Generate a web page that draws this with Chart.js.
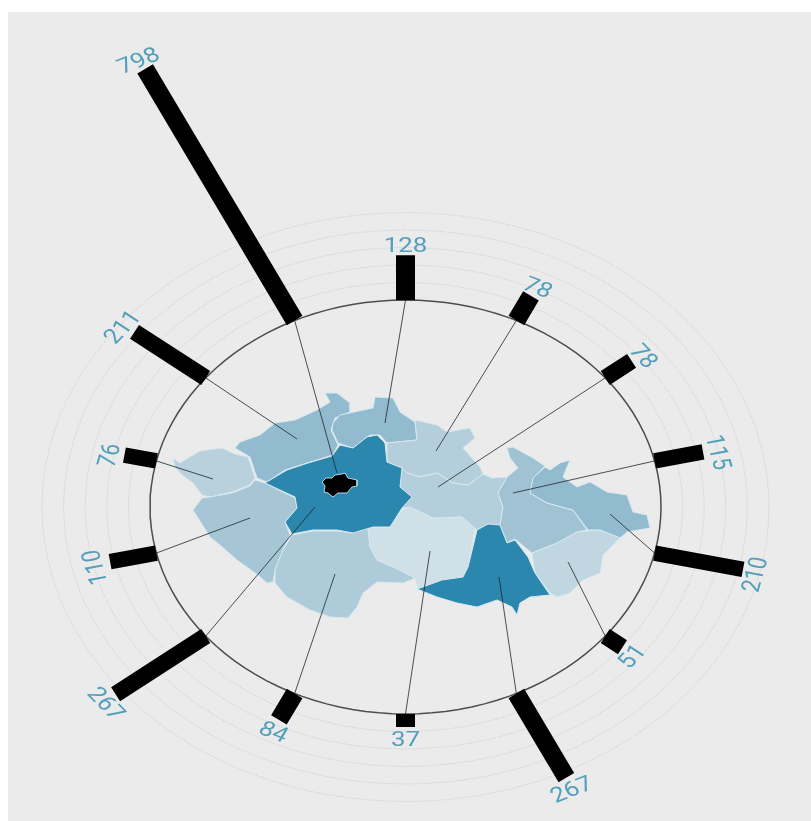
<!DOCTYPE html>
<html lang="en">
<head>
  <meta charset="UTF-8">
  <title>Regions of Czechia</title>
  <script src="https://cdn.jsdelivr.net/npm/chart.js"></script>
  <style>
    html, body { margin: 0; background: #ffffff; }
    #paper { position: absolute; left: 8px; top: 12px; width: 803px; height: 809px; background: #ebebeb; }
    #wrap { position: absolute; left: 0; top: 0; width: 811px; height: 821px; }
  </style>
</head>
<body>
  <div id="paper"></div>
  <div id="wrap"><canvas id="chart" width="811" height="821"></canvas></div>

  <script>
    // bar values, clockwise from the top
    var values = [128, 78, 78, 115, 210, 51, 267, 37, 84, 267, 110, 76, 211, 798];
    var ringValues = [50, 100, 150, 200, 250];

    // where each thin line ends inside the map
    var leaderEndX = [385, 436, 438, 513, 610, 568, 499, 430, 335, 315, 250, 213, 297, 337];
    var leaderEndY = [423, 451, 487, 493, 514, 562, 577, 551, 574, 507, 518, 479, 439, 473];

    // region outlines
    var karlovarsky = [[173,458],[180,463],[188,458],[200,451],[222,448],[235,454],[248,457],[255,478],[250,485],[232,492],[210,497],[202,495],[193,483],[182,475],[175,467]];
    var ustecky = [[235,448],[240,442],[260,435],[275,423],[295,420],[317,410],[330,402],[325,393],[337,393],[350,403],[350,412],[335,418],[331,430],[338,445],[333,455],[307,463],[285,470],[267,482],[257,478],[250,457]];
    var liberecky = [[333,423],[340,415],[373,408],[375,397],[393,398],[400,412],[415,422],[417,440],[387,443],[380,435],[370,435],[353,448],[338,443],[332,430]];
    var stredocesky = [[265,483],[287,470],[308,463],[332,456],[340,445],[353,448],[367,437],[377,435],[385,443],[387,462],[402,468],[400,487],[412,497],[402,508],[390,527],[373,527],[353,533],[337,530],[313,530],[292,534],[285,522],[297,508],[295,497]];
    var praha = [[322,482],[326,478],[332,478],[335,475],[342,474],[345,473],[348,478],[357,480],[357,486],[352,487],[347,493],[338,493],[333,497],[328,493],[324,492],[325,486]];
    var plzensky = [[193,510],[202,498],[210,497],[232,493],[250,486],[255,480],[265,483],[295,498],[297,508],[285,522],[290,535],[283,550],[275,570],[273,582],[267,583],[258,575],[237,560],[220,545],[210,537]];
    var jihocesky = [[292,535],[313,531],[337,531],[353,533],[368,527],[370,547],[377,560],[400,570],[415,578],[403,583],[377,582],[363,593],[357,607],[348,618],[330,617],[310,610],[287,597],[275,583],[275,570],[283,550]];
    var vysocina = [[368,528],[390,527],[402,510],[410,507],[433,518],[462,517],[475,528],[468,567],[463,577],[442,580],[418,588],[415,578],[400,570],[377,560],[370,547]];
    var jihomoravsky = [[417,589],[442,580],[463,577],[468,567],[477,530],[488,524],[500,525],[507,543],[515,540],[528,557],[535,573],[550,595],[530,597],[520,603],[517,615],[512,607],[497,600],[477,607],[457,603],[437,597]];
    var zlinsky = [[532,553],[557,543],[577,532],[600,530],[620,538],[603,555],[600,573],[583,580],[570,593],[557,597],[550,593],[535,573]];
    var moravskoslezsky = [[530,493],[533,478],[545,467],[550,470],[560,463],[570,460],[563,477],[577,487],[590,482],[607,492],[627,495],[633,512],[647,515],[650,528],[627,532],[620,538],[600,530],[588,530],[573,510],[547,503]];
    var olomoucky = [[507,448],[513,447],[533,458],[545,466],[533,478],[530,493],[547,503],[573,510],[587,530],[577,532],[557,543],[532,553],[515,539],[507,543],[500,525],[503,507],[498,493],[507,477],[518,468],[510,458]];
    var kralovehradecky = [[415,420],[437,425],[447,432],[470,428],[475,438],[463,448],[480,467],[483,474],[468,485],[453,483],[437,473],[420,477],[407,473],[402,468],[387,462],[387,443],[417,440]];
    var pardubicky = [[402,468],[407,473],[420,477],[437,473],[453,483],[468,485],[483,474],[492,478],[507,477],[498,493],[503,507],[500,525],[488,524],[477,530],[462,517],[433,518],[410,507],[402,508],[412,497],[400,487]];

    var regions = [
      [karlovarsky, '#b9d1dd'], [ustecky, '#93bbcf'], [liberecky, '#93bbcf'],
      [plzensky, '#a6c6d6'], [jihocesky, '#aecbda'], [vysocina, '#cfe0e7'],
      [kralovehradecky, '#b4cfdb'], [pardubicky, '#b4cfdb'], [olomoucky, '#a0c2d3'],
      [moravskoslezsky, '#93bbcf'], [zlinsky, '#c0d6e1'], [jihomoravsky, '#2b87ad'],
      [stredocesky, '#2b87ad']
    ];

    // the circle is squashed into an ellipse in the picture
    var CX = 405.5, CY = 507, RX = 255.5, RY = 207;
    var RING_UNIT = 0.00169; // ring radii per unit of value
    var BAR_WIDTH = 0.0744;

    function bearing(i) { return i * 2 * Math.PI / values.length; }
    function polar(theta, v) {
      var r = 1 + v * RING_UNIT;
      return { x: CX + Math.sin(theta) * r * RX, y: CY - Math.cos(theta) * r * RY };
    }
    function ringPoints(v) {
      var pts = [];
      for (var a = 0; a <= 360; a += 3) pts.push(polar(a * Math.PI / 180, v));
      return pts;
    }
    function barThickness(theta) {
      var len = Math.hypot(Math.sin(theta) * RX, Math.cos(theta) * RY);
      return BAR_WIDTH * RX * RY / len;
    }
    function outline(shape) {
      return shape.concat([shape[0]]).map(function (p) { return { x: p[0], y: p[1] }; });
    }

    var datasets = [];

    ringValues.forEach(function (v) {
      datasets.push({ data: ringPoints(v), borderColor: '#c8c8c8', borderWidth: 1, borderDash: [1, 1.5], fill: false });
    });
    datasets.push({ data: ringPoints(0), borderColor: '#4d4d4d', borderWidth: 1.5, fill: false });

    regions.forEach(function (r) {
      datasets.push({ data: outline(r[0]), borderColor: '#d5e7ee', borderWidth: 1, backgroundColor: r[1], fill: 'shape' });
    });
    datasets.push({ data: outline(praha), borderColor: '#b9d3dd', borderWidth: 1, backgroundColor: '#000000', fill: 'shape' });

    values.forEach(function (v, i) {
      datasets.push({
        data: [polar(bearing(i), 0), { x: leaderEndX[i], y: leaderEndY[i] }],
        borderColor: 'rgba(30,40,45,0.8)', borderWidth: 1, fill: false
      });
    });
    values.forEach(function (v, i) {
      datasets.push({
        data: [polar(bearing(i), 0), polar(bearing(i), v)],
        borderColor: '#000000', borderWidth: barThickness(bearing(i)), fill: false
      });
    });

    // chart.js paints the first dataset last, so put the rings at the back
    datasets.reverse();

    // value labels sit just past the bar tip and get the same squash as the rings
    var barLabels = {
      id: 'barLabels',
      afterDatasetsDraw: function (chart) {
        var ctx = chart.ctx, sx = chart.scales.x, sy = chart.scales.y;
        ctx.save();
        ctx.font = '21px Roboto';
        ctx.fillStyle = '#549fbb';
        ctx.textAlign = 'center';
        ctx.textBaseline = 'middle';
        values.forEach(function (v, i) {
          var theta = bearing(i);
          var pos = polar(theta, v + 32);
          var deg = theta * 180 / Math.PI;
          ctx.save();
          ctx.translate(sx.getPixelForValue(pos.x), sy.getPixelForValue(pos.y) + 3);
          ctx.scale(RX / RY, 1);
          ctx.rotate(deg > 90 && deg < 250 ? theta - Math.PI : theta);
          ctx.fillText(String(v), 0, 0);
          ctx.restore();
        });
        ctx.restore();
      }
    };

    new Chart(document.getElementById('chart').getContext('2d'), {
      type: 'scatter',
      data: { datasets: datasets },
      plugins: [barLabels],
      options: {
        responsive: false,
        animation: false,
        showLine: true,
        layout: { padding: 0 },
        elements: { point: { radius: 0 }, line: { tension: 0 } },
        plugins: { legend: { display: false }, tooltip: { enabled: false } },
        scales: {
          x: { type: 'linear', display: false, min: 0, max: 811 },
          y: { type: 'linear', display: false, min: 0, max: 821, reverse: true }
        }
      }
    });
  </script>
</body>
</html>
